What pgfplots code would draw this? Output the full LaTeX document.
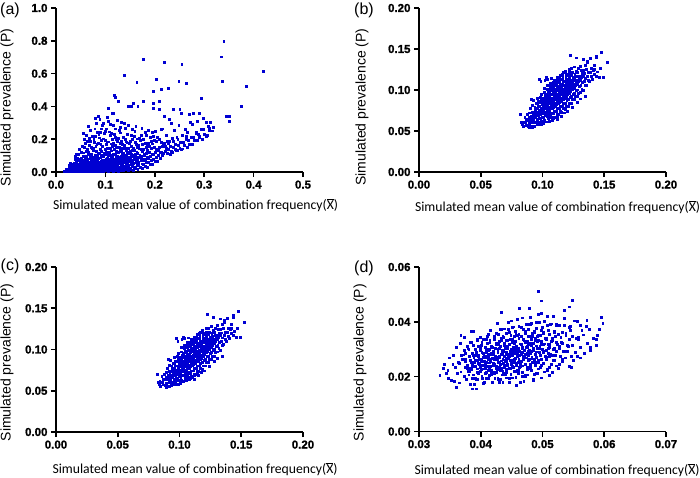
\documentclass[border=0pt]{standalone}
\usepackage{pgfplots}
\pgfplotsset{compat=1.18}
\usepackage{pgfplotstable}
\usepackage{fontspec}
\setmainfont{Liberation Sans}[AutoFakeBold=2.5]
\newfontfamily\calibri{Carlito}
\newfontfamily\tickbf{Liberation Sans}[FakeBold=1.2]
\definecolor{ptblue}{RGB}{0,0,210}

% (a) simulation scenario 1
\pgfplotstableread[row sep=\\]{
x y\\
0.017 0.002\\ 0.021 0.005\\ 0.024 0.008\\ 0.019 0.003\\ 0.023 0.012\\ 0.025 0.006\\ 0.022 0.018\\ 0.020 0.001\\
0.026 0.002\\ 0.031 0.004\\ 0.028 0.007\\ 0.034 0.010\\ 0.029 0.013\\ 0.032 0.016\\ 0.027 0.020\\ 0.035 0.024\\ 0.030 0.028\\ 0.033 0.033\\ 0.028 0.038\\ 0.034 0.045\\ 0.036 0.006\\ 0.032 0.003\\ 0.030 0.052\\
0.036 0.001\\ 0.041 0.003\\ 0.038 0.005\\ 0.044 0.008\\ 0.037 0.010\\ 0.042 0.013\\ 0.045 0.016\\ 0.039 0.019\\ 0.043 0.022\\ 0.036 0.026\\ 0.040 0.030\\ 0.044 0.034\\ 0.038 0.038\\ 0.042 0.043\\ 0.045 0.048\\ 0.037 0.054\\ 0.041 0.060\\ 0.043 0.067\\ 0.039 0.075\\ 0.044 0.085\\ 0.040 0.095\\ 0.042 0.110\\ 0.045 0.006\\ 0.035 0.012\\ 0.039 0.002\\
0.046 0.001\\ 0.051 0.003\\ 0.048 0.005\\ 0.054 0.007\\ 0.047 0.010\\ 0.052 0.012\\ 0.055 0.015\\ 0.049 0.018\\ 0.053 0.021\\ 0.046 0.024\\ 0.050 0.027\\ 0.054 0.031\\ 0.048 0.035\\ 0.052 0.039\\ 0.055 0.043\\ 0.047 0.048\\ 0.051 0.053\\ 0.053 0.058\\ 0.049 0.064\\ 0.054 0.070\\ 0.050 0.077\\ 0.052 0.085\\ 0.055 0.094\\ 0.046 0.105\\ 0.051 0.118\\ 0.048 0.135\\ 0.053 0.155\\ 0.050 0.004\\ 0.045 0.009\\ 0.055 0.020\\
0.056 0.001\\ 0.061 0.003\\ 0.058 0.005\\ 0.064 0.008\\ 0.057 0.011\\ 0.062 0.014\\ 0.065 0.017\\ 0.059 0.020\\ 0.063 0.024\\ 0.056 0.028\\ 0.060 0.032\\ 0.064 0.036\\ 0.058 0.040\\ 0.062 0.045\\ 0.065 0.050\\ 0.057 0.055\\ 0.061 0.060\\ 0.063 0.066\\ 0.059 0.072\\ 0.064 0.078\\ 0.060 0.085\\ 0.062 0.092\\ 0.065 0.104\\ 0.056 0.116\\ 0.061 0.127\\ 0.058 0.151\\ 0.063 0.139\\ 0.060 0.172\\ 0.057 0.196\\ 0.064 0.188\\ 0.062 0.223\\ 0.059 0.006\\ 0.063 0.013\\ 0.061 0.026\\ 0.058 0.042\\
0.066 0.002\\ 0.071 0.004\\ 0.068 0.006\\ 0.074 0.009\\ 0.067 0.012\\ 0.072 0.015\\ 0.075 0.019\\ 0.069 0.023\\ 0.073 0.027\\ 0.066 0.031\\ 0.070 0.035\\ 0.074 0.040\\ 0.068 0.045\\ 0.072 0.050\\ 0.075 0.055\\ 0.067 0.061\\ 0.071 0.067\\ 0.073 0.073\\ 0.069 0.080\\ 0.074 0.087\\ 0.070 0.095\\ 0.072 0.108\\ 0.075 0.131\\ 0.066 0.117\\ 0.071 0.149\\ 0.068 0.162\\ 0.073 0.143\\ 0.070 0.186\\ 0.067 0.203\\ 0.074 0.219\\ 0.069 0.254\\ 0.065 0.277\\ 0.072 0.008\\ 0.068 0.017\\ 0.070 0.038\\
0.076 0.002\\ 0.081 0.005\\ 0.078 0.008\\ 0.084 0.011\\ 0.077 0.014\\ 0.082 0.018\\ 0.085 0.022\\ 0.079 0.026\\ 0.083 0.030\\ 0.076 0.035\\ 0.080 0.040\\ 0.084 0.045\\ 0.078 0.050\\ 0.082 0.056\\ 0.085 0.062\\ 0.077 0.068\\ 0.081 0.075\\ 0.083 0.082\\ 0.079 0.089\\ 0.084 0.097\\ 0.080 0.101\\ 0.082 0.126\\ 0.085 0.113\\ 0.076 0.143\\ 0.081 0.158\\ 0.078 0.182\\ 0.083 0.167\\ 0.080 0.214\\ 0.077 0.196\\ 0.084 0.243\\ 0.079 0.262\\ 0.082 0.298\\ 0.080 0.327\\ 0.083 0.012\\ 0.078 0.033\\
0.086 0.002\\ 0.091 0.005\\ 0.088 0.009\\ 0.094 0.013\\ 0.087 0.017\\ 0.092 0.021\\ 0.095 0.026\\ 0.089 0.031\\ 0.093 0.036\\ 0.086 0.041\\ 0.090 0.047\\ 0.094 0.053\\ 0.088 0.059\\ 0.092 0.066\\ 0.095 0.073\\ 0.087 0.080\\ 0.091 0.088\\ 0.093 0.096\\ 0.089 0.111\\ 0.094 0.102\\ 0.090 0.139\\ 0.092 0.124\\ 0.095 0.157\\ 0.086 0.176\\ 0.091 0.168\\ 0.088 0.207\\ 0.093 0.194\\ 0.090 0.241\\ 0.087 0.226\\ 0.094 0.283\\ 0.092 0.262\\ 0.089 0.020\\
0.096 0.003\\ 0.101 0.007\\ 0.098 0.011\\ 0.104 0.015\\ 0.097 0.020\\ 0.102 0.025\\ 0.105 0.030\\ 0.099 0.036\\ 0.103 0.042\\ 0.096 0.048\\ 0.100 0.055\\ 0.104 0.062\\ 0.098 0.069\\ 0.102 0.077\\ 0.105 0.085\\ 0.097 0.093\\ 0.101 0.107\\ 0.103 0.121\\ 0.099 0.116\\ 0.104 0.146\\ 0.100 0.137\\ 0.102 0.166\\ 0.105 0.183\\ 0.096 0.201\\ 0.101 0.191\\ 0.098 0.234\\ 0.103 0.262\\ 0.100 0.248\\ 0.097 0.295\\ 0.104 0.332\\
0.106 0.003\\ 0.111 0.007\\ 0.108 0.012\\ 0.114 0.017\\ 0.107 0.022\\ 0.112 0.028\\ 0.115 0.034\\ 0.109 0.040\\ 0.113 0.046\\ 0.106 0.053\\ 0.110 0.060\\ 0.114 0.067\\ 0.108 0.075\\ 0.112 0.083\\ 0.115 0.091\\ 0.107 0.099\\ 0.111 0.103\\ 0.113 0.128\\ 0.109 0.119\\ 0.114 0.155\\ 0.110 0.142\\ 0.112 0.171\\ 0.115 0.196\\ 0.106 0.183\\ 0.111 0.221\\ 0.108 0.244\\ 0.113 0.236\\ 0.110 0.289\\ 0.107 0.306\\ 0.114 0.357\\
0.116 0.004\\ 0.121 0.009\\ 0.118 0.014\\ 0.124 0.019\\ 0.117 0.025\\ 0.122 0.031\\ 0.125 0.037\\ 0.119 0.043\\ 0.123 0.050\\ 0.116 0.057\\ 0.120 0.064\\ 0.124 0.071\\ 0.118 0.079\\ 0.122 0.087\\ 0.125 0.095\\ 0.117 0.109\\ 0.121 0.104\\ 0.123 0.126\\ 0.119 0.137\\ 0.124 0.148\\ 0.120 0.161\\ 0.122 0.149\\ 0.125 0.184\\ 0.116 0.172\\ 0.121 0.213\\ 0.118 0.229\\ 0.123 0.198\\ 0.120 0.262\\ 0.117 0.284\\ 0.124 0.316\\
0.126 0.005\\ 0.131 0.011\\ 0.128 0.017\\ 0.134 0.023\\ 0.127 0.029\\ 0.132 0.036\\ 0.135 0.043\\ 0.129 0.050\\ 0.133 0.057\\ 0.126 0.064\\ 0.130 0.072\\ 0.134 0.080\\ 0.128 0.088\\ 0.132 0.096\\ 0.135 0.109\\ 0.127 0.118\\ 0.131 0.131\\ 0.133 0.124\\ 0.129 0.151\\ 0.134 0.142\\ 0.130 0.173\\ 0.132 0.187\\ 0.135 0.168\\ 0.126 0.204\\ 0.131 0.238\\ 0.128 0.251\\ 0.133 0.302\\ 0.130 0.274\\
0.136 0.006\\ 0.141 0.013\\ 0.138 0.020\\ 0.144 0.027\\ 0.137 0.034\\ 0.142 0.041\\ 0.145 0.048\\ 0.139 0.056\\ 0.143 0.064\\ 0.136 0.072\\ 0.140 0.080\\ 0.144 0.088\\ 0.138 0.097\\ 0.142 0.101\\ 0.145 0.121\\ 0.137 0.112\\ 0.141 0.144\\ 0.143 0.133\\ 0.139 0.163\\ 0.144 0.177\\ 0.140 0.196\\ 0.142 0.183\\ 0.145 0.231\\ 0.136 0.211\\ 0.141 0.266\\ 0.138 0.297\\
0.146 0.008\\ 0.151 0.016\\ 0.148 0.024\\ 0.154 0.032\\ 0.147 0.040\\ 0.152 0.048\\ 0.155 0.056\\ 0.149 0.064\\ 0.153 0.072\\ 0.146 0.080\\ 0.150 0.089\\ 0.154 0.098\\ 0.148 0.113\\ 0.152 0.104\\ 0.155 0.132\\ 0.147 0.141\\ 0.151 0.126\\ 0.153 0.158\\ 0.149 0.171\\ 0.154 0.199\\ 0.150 0.186\\ 0.152 0.224\\ 0.155 0.257\\ 0.146 0.283\\
0.156 0.010\\ 0.161 0.020\\ 0.158 0.030\\ 0.164 0.040\\ 0.157 0.050\\ 0.162 0.059\\ 0.165 0.068\\ 0.159 0.077\\ 0.163 0.086\\ 0.156 0.095\\ 0.160 0.109\\ 0.164 0.119\\ 0.158 0.131\\ 0.162 0.103\\ 0.165 0.152\\ 0.157 0.143\\ 0.161 0.181\\ 0.163 0.166\\ 0.159 0.217\\ 0.164 0.201\\ 0.160 0.246\\ 0.162 0.278\\
0.166 0.015\\ 0.171 0.027\\ 0.168 0.038\\ 0.174 0.049\\ 0.167 0.059\\ 0.172 0.068\\ 0.175 0.077\\ 0.169 0.086\\ 0.173 0.095\\ 0.166 0.113\\ 0.170 0.102\\ 0.174 0.129\\ 0.168 0.146\\ 0.172 0.137\\ 0.175 0.168\\ 0.167 0.159\\ 0.171 0.193\\ 0.173 0.221\\ 0.169 0.206\\ 0.174 0.263\\
0.176 0.022\\ 0.181 0.035\\ 0.178 0.047\\ 0.184 0.058\\ 0.177 0.068\\ 0.182 0.078\\ 0.185 0.088\\ 0.179 0.098\\ 0.183 0.113\\ 0.176 0.124\\ 0.180 0.107\\ 0.184 0.149\\ 0.178 0.137\\ 0.182 0.176\\ 0.185 0.161\\ 0.177 0.198\\ 0.181 0.241\\ 0.183 0.222\\
0.186 0.030\\ 0.191 0.045\\ 0.188 0.058\\ 0.194 0.070\\ 0.187 0.081\\ 0.192 0.092\\ 0.195 0.109\\ 0.189 0.121\\ 0.193 0.143\\ 0.186 0.131\\ 0.190 0.158\\ 0.194 0.187\\ 0.188 0.172\\ 0.192 0.211\\ 0.195 0.239\\ 0.187 0.253\\
0.196 0.045\\ 0.201 0.062\\ 0.198 0.076\\ 0.204 0.089\\ 0.197 0.106\\ 0.202 0.118\\ 0.205 0.131\\ 0.199 0.147\\ 0.203 0.139\\ 0.196 0.171\\ 0.200 0.193\\ 0.204 0.184\\ 0.198 0.219\\ 0.202 0.247\\
0.206 0.065\\ 0.211 0.085\\ 0.208 0.103\\ 0.214 0.121\\ 0.207 0.133\\ 0.212 0.117\\ 0.215 0.158\\ 0.209 0.147\\ 0.213 0.179\\ 0.206 0.212\\ 0.210 0.196\\ 0.214 0.257\\
0.216 0.098\\ 0.221 0.127\\ 0.218 0.112\\ 0.224 0.141\\ 0.217 0.163\\ 0.222 0.154\\ 0.225 0.188\\ 0.219 0.176\\ 0.223 0.221\\ 0.216 0.262\\
0.226 0.112\\ 0.231 0.104\\ 0.228 0.139\\ 0.234 0.127\\ 0.227 0.171\\ 0.232 0.158\\ 0.235 0.206\\ 0.229 0.188\\ 0.233 0.297\\
0.236 0.121\\ 0.241 0.137\\ 0.238 0.148\\ 0.244 0.129\\ 0.237 0.184\\ 0.242 0.166\\ 0.245 0.213\\ 0.239 0.252\\
0.246 0.131\\ 0.251 0.146\\ 0.248 0.162\\ 0.254 0.139\\ 0.247 0.197\\ 0.252 0.181\\ 0.255 0.224\\ 0.249 0.281\\
0.256 0.140\\ 0.261 0.160\\ 0.258 0.180\\ 0.264 0.200\\ 0.257 0.220\\ 0.262 0.260\\
0.266 0.150\\ 0.271 0.170\\ 0.268 0.190\\ 0.274 0.210\\ 0.267 0.240\\ 0.272 0.300\\
0.276 0.170\\ 0.281 0.190\\ 0.278 0.210\\ 0.284 0.240\\ 0.277 0.290\\
0.286 0.190\\ 0.291 0.210\\ 0.288 0.230\\ 0.294 0.260\\ 0.287 0.310\\
0.296 0.200\\ 0.301 0.230\\ 0.298 0.260\\ 0.304 0.300\\
0.306 0.220\\ 0.311 0.250\\ 0.308 0.280\\
0.316 0.250\\ 0.318 0.270\\ 0.313 0.300\\
0.340 0.798\\ 0.335 0.701\\ 0.337 0.552\\ 0.420 0.613\\ 0.385 0.521\\ 0.375 0.399\\ 0.345 0.338\\ 0.352 0.338\\ 0.352 0.310\\ 0.294 0.450\\ 0.255 0.654\\ 0.219 0.668\\ 0.177 0.684\\ 0.203 0.562\\ 0.139 0.591\\ 0.164 0.544\\ 0.249 0.552\\ 0.265 0.542\\ 0.227 0.511\\ 0.214 0.501\\ 0.197 0.491\\ 0.119 0.464\\ 0.121 0.456\\ 0.126 0.430\\ 0.177 0.430\\ 0.197 0.420\\ 0.210 0.430\\ 0.156 0.420\\ 0.146 0.399\\ 0.153 0.399\\ 0.166 0.399\\ 0.237 0.379\\ 0.251 0.379\\ 0.254 0.358\\ 0.271 0.348\\ 0.278 0.358\\ 0.291 0.358\\ 0.298 0.328\\ 0.308 0.277\\ 0.311 0.267\\ 0.305 0.216\\ 0.291 0.216\\ 0.264 0.216\\ 0.285 0.236\\ 0.197 0.389\\ 0.210 0.379\\ 0.220 0.338\\ 0.230 0.318\\ 0.106 0.389\\ 0.116 0.358\\ 0.086 0.338\\ 0.089 0.318\\ 0.055 0.236\\
}\tabA

% (b) and (c) share the same simulated sample
\pgfplotstableread[row sep=\\]{
x y\\
0.0835 0.058\\ 0.0842 0.061\\ 0.0848 0.055\\
0.0860 0.060\\ 0.0868 0.064\\ 0.0872 0.057\\ 0.0858 0.067\\
0.0885 0.063\\ 0.0893 0.066\\ 0.0898 0.059\\ 0.0882 0.070\\ 0.0890 0.056\\ 0.0896 0.072\\
0.0908 0.055\\ 0.0921 0.060\\ 0.0912 0.063\\ 0.0918 0.066\\ 0.0910 0.068\\ 0.0923 0.070\\ 0.0915 0.073\\ 0.0906 0.077\\ 0.0919 0.081\\
0.0935 0.056\\ 0.0946 0.060\\ 0.0931 0.063\\ 0.0942 0.066\\ 0.0937 0.069\\ 0.0949 0.071\\ 0.0933 0.073\\ 0.0944 0.076\\ 0.0939 0.079\\ 0.0947 0.083\\ 0.0930 0.087\\
0.0958 0.058\\ 0.0969 0.061\\ 0.0961 0.064\\ 0.0972 0.067\\ 0.0956 0.069\\ 0.0966 0.071\\ 0.0963 0.073\\ 0.0975 0.075\\ 0.0959 0.077\\ 0.0970 0.080\\ 0.0962 0.083\\ 0.0968 0.086\\ 0.0957 0.090\\
0.0983 0.058\\ 0.0994 0.062\\ 0.0987 0.065\\ 0.0998 0.067\\ 0.0981 0.070\\ 0.0992 0.072\\ 0.0985 0.074\\ 0.0996 0.076\\ 0.0989 0.078\\ 0.0980 0.080\\ 0.0997 0.082\\ 0.0986 0.085\\ 0.0993 0.088\\ 0.0984 0.091\\ 0.0991 0.095\\ 0.0988 0.110\\
0.1008 0.059\\ 0.1019 0.063\\ 0.1012 0.066\\ 0.1023 0.069\\ 0.1006 0.071\\ 0.1017 0.073\\ 0.1010 0.075\\ 0.1021 0.077\\ 0.1014 0.079\\ 0.1007 0.081\\ 0.1024 0.083\\ 0.1011 0.085\\ 0.1018 0.087\\ 0.1009 0.090\\ 0.1022 0.093\\ 0.1013 0.097\\ 0.1016 0.102\\ 0.1020 0.112\\
0.1033 0.061\\ 0.1045 0.065\\ 0.1037 0.068\\ 0.1048 0.071\\ 0.1031 0.073\\ 0.1042 0.075\\ 0.1036 0.077\\ 0.1047 0.079\\ 0.1039 0.081\\ 0.1034 0.082\\ 0.1044 0.084\\ 0.1038 0.086\\ 0.1049 0.088\\ 0.1032 0.090\\ 0.1043 0.092\\ 0.1035 0.095\\ 0.1046 0.098\\ 0.1040 0.101\\ 0.1041 0.105\\ 0.1037 0.113\\
0.1058 0.062\\ 0.1070 0.066\\ 0.1062 0.069\\ 0.1073 0.072\\ 0.1056 0.075\\ 0.1067 0.077\\ 0.1061 0.079\\ 0.1072 0.081\\ 0.1064 0.083\\ 0.1059 0.085\\ 0.1069 0.086\\ 0.1063 0.088\\ 0.1074 0.090\\ 0.1057 0.092\\ 0.1068 0.094\\ 0.1060 0.096\\ 0.1071 0.099\\ 0.1065 0.102\\ 0.1066 0.105\\ 0.1062 0.108\\ 0.1070 0.114\\
0.1083 0.063\\ 0.1095 0.067\\ 0.1087 0.071\\ 0.1098 0.074\\ 0.1081 0.077\\ 0.1092 0.079\\ 0.1086 0.081\\ 0.1097 0.083\\ 0.1089 0.085\\ 0.1084 0.087\\ 0.1094 0.088\\ 0.1088 0.090\\ 0.1099 0.092\\ 0.1082 0.094\\ 0.1093 0.096\\ 0.1085 0.098\\ 0.1096 0.100\\ 0.1090 0.103\\ 0.1091 0.106\\ 0.1087 0.109\\ 0.1095 0.112\\ 0.1093 0.065\\
0.1108 0.066\\ 0.1120 0.070\\ 0.1112 0.074\\ 0.1123 0.077\\ 0.1106 0.080\\ 0.1117 0.082\\ 0.1111 0.084\\ 0.1122 0.086\\ 0.1114 0.088\\ 0.1109 0.090\\ 0.1119 0.091\\ 0.1113 0.093\\ 0.1124 0.095\\ 0.1107 0.097\\ 0.1118 0.099\\ 0.1110 0.101\\ 0.1121 0.103\\ 0.1115 0.106\\ 0.1116 0.109\\ 0.1112 0.112\\ 0.1120 0.115\\ 0.1118 0.068\\
0.1133 0.070\\ 0.1145 0.074\\ 0.1137 0.077\\ 0.1148 0.080\\ 0.1131 0.083\\ 0.1142 0.085\\ 0.1136 0.087\\ 0.1147 0.089\\ 0.1139 0.091\\ 0.1134 0.093\\ 0.1144 0.094\\ 0.1138 0.096\\ 0.1149 0.098\\ 0.1132 0.100\\ 0.1143 0.102\\ 0.1135 0.104\\ 0.1146 0.106\\ 0.1140 0.109\\ 0.1141 0.112\\ 0.1137 0.115\\ 0.1145 0.118\\ 0.1143 0.072\\
0.1158 0.073\\ 0.1170 0.077\\ 0.1162 0.080\\ 0.1173 0.083\\ 0.1156 0.086\\ 0.1167 0.088\\ 0.1161 0.090\\ 0.1172 0.092\\ 0.1164 0.094\\ 0.1159 0.096\\ 0.1169 0.097\\ 0.1163 0.099\\ 0.1174 0.101\\ 0.1157 0.103\\ 0.1168 0.105\\ 0.1160 0.107\\ 0.1171 0.110\\ 0.1165 0.113\\ 0.1166 0.116\\ 0.1162 0.119\\ 0.1170 0.121\\
0.1183 0.076\\ 0.1195 0.080\\ 0.1187 0.084\\ 0.1198 0.087\\ 0.1181 0.089\\ 0.1192 0.091\\ 0.1186 0.093\\ 0.1197 0.095\\ 0.1189 0.097\\ 0.1184 0.099\\ 0.1194 0.100\\ 0.1188 0.102\\ 0.1199 0.104\\ 0.1182 0.106\\ 0.1193 0.108\\ 0.1185 0.110\\ 0.1196 0.113\\ 0.1190 0.116\\ 0.1191 0.119\\ 0.1187 0.123\\
0.1208 0.080\\ 0.1220 0.084\\ 0.1212 0.088\\ 0.1223 0.091\\ 0.1206 0.094\\ 0.1217 0.096\\ 0.1211 0.098\\ 0.1222 0.100\\ 0.1214 0.102\\ 0.1209 0.104\\ 0.1219 0.106\\ 0.1213 0.108\\ 0.1224 0.110\\ 0.1207 0.112\\ 0.1218 0.115\\ 0.1210 0.118\\ 0.1221 0.121\\ 0.1215 0.125\\
0.1233 0.084\\ 0.1245 0.088\\ 0.1237 0.092\\ 0.1248 0.095\\ 0.1231 0.098\\ 0.1242 0.100\\ 0.1236 0.102\\ 0.1247 0.104\\ 0.1239 0.106\\ 0.1234 0.108\\ 0.1244 0.110\\ 0.1238 0.112\\ 0.1249 0.115\\ 0.1232 0.118\\ 0.1243 0.121\\ 0.1235 0.126\\
0.1258 0.088\\ 0.1270 0.092\\ 0.1262 0.096\\ 0.1273 0.099\\ 0.1256 0.102\\ 0.1267 0.105\\ 0.1261 0.107\\ 0.1272 0.109\\ 0.1264 0.111\\ 0.1259 0.113\\ 0.1269 0.116\\ 0.1263 0.119\\ 0.1274 0.123\\ 0.1257 0.128\\
0.1283 0.092\\ 0.1295 0.096\\ 0.1287 0.100\\ 0.1298 0.104\\ 0.1281 0.107\\ 0.1292 0.110\\ 0.1286 0.112\\ 0.1297 0.114\\ 0.1289 0.117\\ 0.1284 0.121\\ 0.1294 0.126\\ 0.1276 0.139\\
0.1308 0.097\\ 0.1320 0.101\\ 0.1312 0.105\\ 0.1323 0.109\\ 0.1306 0.112\\ 0.1317 0.115\\ 0.1311 0.117\\ 0.1322 0.120\\ 0.1314 0.124\\ 0.1309 0.129\\
0.1333 0.099\\ 0.1345 0.105\\ 0.1337 0.110\\ 0.1348 0.114\\ 0.1331 0.117\\ 0.1342 0.120\\ 0.1336 0.124\\ 0.1347 0.130\\
0.1358 0.106\\ 0.1370 0.112\\ 0.1362 0.117\\ 0.1373 0.121\\ 0.1356 0.125\\ 0.1367 0.133\\
0.1383 0.110\\ 0.1395 0.116\\ 0.1387 0.121\\ 0.1398 0.126\\ 0.1391 0.138\\
0.1408 0.113\\ 0.1420 0.119\\ 0.1412 0.124\\ 0.1423 0.130\\
0.1435 0.117\\ 0.1445 0.122\\ 0.1440 0.139\\
0.1460 0.115\\ 0.1470 0.126\\
0.1478 0.146\\ 0.1497 0.115\\ 0.1524 0.133\\
0.1438 0.141\\ 0.1419 0.125\\ 0.1362 0.135\\ 0.1227 0.142\\ 0.1349 0.092\\ 0.0830 0.060\\ 0.0824 0.070\\ 0.0897 0.054\\ 0.0919 0.0545\\ 0.0992 0.058\\ 0.1005 0.060\\ 0.0911 0.088\\ 0.0978 0.113\\ 0.1032 0.115\\ 0.1180 0.072\\ 0.1205 0.074\\ 0.1240 0.079\\ 0.1280 0.085\\ 0.1310 0.089\\ 0.1125 0.064\\ 0.1155 0.068\\ 0.1130 0.113\\ 0.1330 0.137\\
}\tabB

% (d)
\pgfplotstableread[row sep=\\]{
x y\\
0.0345 0.0212\\ 0.0340 0.0231\\ 0.0348 0.0192\\
0.0352 0.0187\\ 0.0347 0.0224\\ 0.0355 0.0245\\ 0.0350 0.0268\\
0.0357 0.0182\\ 0.0363 0.0212\\ 0.0359 0.0232\\ 0.0364 0.0252\\ 0.0356 0.0277\\ 0.0361 0.0307\\
0.0366 0.0177\\ 0.0373 0.0202\\ 0.0368 0.0217\\ 0.0375 0.0232\\ 0.0365 0.0247\\ 0.0371 0.0262\\ 0.0369 0.0277\\ 0.0374 0.0297\\ 0.0367 0.0322\\
0.0384 0.0171\\ 0.0377 0.0191\\ 0.0381 0.0206\\ 0.0380 0.0219\\ 0.0383 0.0231\\ 0.0378 0.0241\\ 0.0385 0.0251\\ 0.0375 0.0261\\ 0.0382 0.0273\\ 0.0376 0.0286\\ 0.0380 0.0301\\ 0.0384 0.0326\\
0.0390 0.0171\\ 0.0393 0.0191\\ 0.0388 0.0206\\ 0.0395 0.0216\\ 0.0385 0.0226\\ 0.0392 0.0236\\ 0.0386 0.0244\\ 0.0390 0.0252\\ 0.0394 0.0260\\ 0.0389 0.0268\\ 0.0393 0.0276\\ 0.0387 0.0286\\ 0.0391 0.0298\\ 0.0388 0.0314\\ 0.0395 0.0336\\
0.0405 0.0175\\ 0.0395 0.0190\\ 0.0402 0.0202\\ 0.0396 0.0212\\ 0.0400 0.0220\\ 0.0404 0.0228\\ 0.0399 0.0235\\ 0.0403 0.0242\\ 0.0397 0.0249\\ 0.0401 0.0256\\ 0.0398 0.0263\\ 0.0405 0.0270\\ 0.0396 0.0278\\ 0.0402 0.0287\\ 0.0400 0.0297\\ 0.0396 0.0309\\ 0.0402 0.0323\\ 0.0399 0.0342\\
0.0406 0.0178\\ 0.0410 0.0193\\ 0.0414 0.0205\\ 0.0409 0.0215\\ 0.0413 0.0223\\ 0.0407 0.0230\\ 0.0411 0.0237\\ 0.0408 0.0244\\ 0.0415 0.0250\\ 0.0406 0.0256\\ 0.0412 0.0262\\ 0.0410 0.0268\\ 0.0406 0.0274\\ 0.0412 0.0281\\ 0.0409 0.0289\\ 0.0414 0.0298\\ 0.0407 0.0308\\ 0.0411 0.0320\\ 0.0410 0.0335\\ 0.0413 0.0355\\
0.0419 0.0179\\ 0.0423 0.0194\\ 0.0417 0.0206\\ 0.0421 0.0215\\ 0.0418 0.0223\\ 0.0425 0.0230\\ 0.0416 0.0237\\ 0.0422 0.0243\\ 0.0420 0.0249\\ 0.0416 0.0255\\ 0.0422 0.0261\\ 0.0419 0.0267\\ 0.0424 0.0273\\ 0.0417 0.0279\\ 0.0421 0.0286\\ 0.0420 0.0293\\ 0.0423 0.0301\\ 0.0418 0.0310\\ 0.0425 0.0320\\ 0.0415 0.0332\\ 0.0422 0.0347\\ 0.0416 0.0367\\
0.0431 0.0179\\ 0.0428 0.0194\\ 0.0435 0.0206\\ 0.0426 0.0216\\ 0.0432 0.0224\\ 0.0430 0.0232\\ 0.0426 0.0239\\ 0.0432 0.0245\\ 0.0429 0.0251\\ 0.0434 0.0257\\ 0.0427 0.0263\\ 0.0431 0.0269\\ 0.0430 0.0275\\ 0.0433 0.0281\\ 0.0428 0.0287\\ 0.0435 0.0294\\ 0.0425 0.0301\\ 0.0432 0.0309\\ 0.0426 0.0318\\ 0.0430 0.0328\\ 0.0434 0.0340\\ 0.0429 0.0354\\ 0.0433 0.0371\\ 0.0427 0.0394\\
0.0436 0.0178\\ 0.0442 0.0195\\ 0.0440 0.0208\\ 0.0436 0.0218\\ 0.0442 0.0227\\ 0.0439 0.0235\\ 0.0444 0.0242\\ 0.0437 0.0248\\ 0.0441 0.0254\\ 0.0440 0.0260\\ 0.0443 0.0266\\ 0.0438 0.0272\\ 0.0445 0.0278\\ 0.0435 0.0284\\ 0.0442 0.0290\\ 0.0436 0.0297\\ 0.0440 0.0304\\ 0.0444 0.0312\\ 0.0439 0.0321\\ 0.0443 0.0331\\ 0.0437 0.0343\\ 0.0441 0.0357\\ 0.0438 0.0374\\ 0.0445 0.0396\\
0.0446 0.0178\\ 0.0452 0.0195\\ 0.0449 0.0209\\ 0.0454 0.0220\\ 0.0447 0.0229\\ 0.0451 0.0237\\ 0.0450 0.0245\\ 0.0453 0.0252\\ 0.0448 0.0258\\ 0.0455 0.0264\\ 0.0445 0.0270\\ 0.0452 0.0276\\ 0.0446 0.0282\\ 0.0450 0.0288\\ 0.0454 0.0294\\ 0.0449 0.0301\\ 0.0453 0.0308\\ 0.0447 0.0316\\ 0.0451 0.0325\\ 0.0448 0.0335\\ 0.0455 0.0347\\ 0.0446 0.0361\\ 0.0452 0.0378\\ 0.0450 0.0403\\
0.0464 0.0179\\ 0.0457 0.0197\\ 0.0461 0.0211\\ 0.0460 0.0222\\ 0.0463 0.0232\\ 0.0458 0.0240\\ 0.0465 0.0248\\ 0.0455 0.0255\\ 0.0462 0.0261\\ 0.0456 0.0267\\ 0.0460 0.0273\\ 0.0464 0.0279\\ 0.0459 0.0285\\ 0.0463 0.0291\\ 0.0457 0.0297\\ 0.0461 0.0304\\ 0.0458 0.0311\\ 0.0465 0.0319\\ 0.0456 0.0328\\ 0.0462 0.0338\\ 0.0460 0.0350\\ 0.0456 0.0364\\ 0.0462 0.0382\\ 0.0459 0.0410\\
0.0470 0.0182\\ 0.0473 0.0200\\ 0.0468 0.0215\\ 0.0475 0.0227\\ 0.0465 0.0237\\ 0.0472 0.0246\\ 0.0466 0.0254\\ 0.0470 0.0261\\ 0.0474 0.0268\\ 0.0469 0.0275\\ 0.0473 0.0282\\ 0.0467 0.0289\\ 0.0471 0.0296\\ 0.0468 0.0303\\ 0.0475 0.0310\\ 0.0466 0.0318\\ 0.0472 0.0326\\ 0.0470 0.0335\\ 0.0466 0.0345\\ 0.0472 0.0357\\ 0.0469 0.0371\\ 0.0474 0.0389\\ 0.0467 0.0414\\
0.0485 0.0186\\ 0.0475 0.0206\\ 0.0482 0.0221\\ 0.0476 0.0233\\ 0.0480 0.0244\\ 0.0484 0.0253\\ 0.0479 0.0261\\ 0.0483 0.0269\\ 0.0477 0.0277\\ 0.0481 0.0284\\ 0.0478 0.0291\\ 0.0485 0.0298\\ 0.0476 0.0305\\ 0.0482 0.0312\\ 0.0480 0.0320\\ 0.0476 0.0328\\ 0.0482 0.0337\\ 0.0479 0.0347\\ 0.0484 0.0359\\ 0.0477 0.0373\\ 0.0481 0.0391\\ 0.0480 0.0416\\
0.0486 0.0191\\ 0.0490 0.0211\\ 0.0494 0.0228\\ 0.0489 0.0241\\ 0.0493 0.0252\\ 0.0487 0.0262\\ 0.0491 0.0271\\ 0.0488 0.0280\\ 0.0495 0.0288\\ 0.0486 0.0296\\ 0.0492 0.0304\\ 0.0490 0.0312\\ 0.0486 0.0320\\ 0.0492 0.0329\\ 0.0489 0.0338\\ 0.0494 0.0349\\ 0.0487 0.0361\\ 0.0491 0.0376\\ 0.0490 0.0396\\ 0.0493 0.0426\\
0.0499 0.0195\\ 0.0503 0.0217\\ 0.0497 0.0235\\ 0.0501 0.0249\\ 0.0498 0.0261\\ 0.0505 0.0272\\ 0.0496 0.0282\\ 0.0502 0.0291\\ 0.0500 0.0300\\ 0.0496 0.0309\\ 0.0502 0.0318\\ 0.0499 0.0328\\ 0.0504 0.0338\\ 0.0497 0.0350\\ 0.0501 0.0363\\ 0.0500 0.0379\\ 0.0503 0.0400\\ 0.0498 0.0430\\
0.0511 0.0205\\ 0.0508 0.0228\\ 0.0515 0.0246\\ 0.0506 0.0261\\ 0.0512 0.0274\\ 0.0510 0.0286\\ 0.0506 0.0297\\ 0.0512 0.0307\\ 0.0509 0.0317\\ 0.0514 0.0328\\ 0.0507 0.0340\\ 0.0511 0.0354\\ 0.0510 0.0370\\ 0.0513 0.0390\\ 0.0508 0.0420\\
0.0516 0.0214\\ 0.0522 0.0239\\ 0.0520 0.0259\\ 0.0516 0.0276\\ 0.0522 0.0291\\ 0.0519 0.0304\\ 0.0524 0.0317\\ 0.0517 0.0331\\ 0.0521 0.0347\\ 0.0520 0.0364\\ 0.0523 0.0389\\ 0.0518 0.0419\\
0.0526 0.0229\\ 0.0532 0.0254\\ 0.0529 0.0274\\ 0.0534 0.0293\\ 0.0527 0.0309\\ 0.0531 0.0325\\ 0.0530 0.0342\\ 0.0533 0.0361\\ 0.0528 0.0385\\ 0.0535 0.0414\\
0.0544 0.0238\\ 0.0537 0.0268\\ 0.0541 0.0291\\ 0.0540 0.0313\\ 0.0543 0.0335\\ 0.0538 0.0358\\ 0.0545 0.0383\\ 0.0535 0.0413\\
0.0550 0.0258\\ 0.0553 0.0288\\ 0.0548 0.0313\\ 0.0555 0.0338\\ 0.0546 0.0368\\ 0.0552 0.0403\\
0.0556 0.0272\\ 0.0562 0.0307\\ 0.0559 0.0337\\ 0.0564 0.0367\\ 0.0557 0.0402\\
0.0568 0.0285\\ 0.0573 0.0322\\ 0.0566 0.0352\\ 0.0571 0.0383\\
0.0578 0.0305\\ 0.0583 0.0338\\ 0.0576 0.0372\\
0.0588 0.0335\\ 0.0593 0.0372\\ 0.0598 0.0395\\
0.0596 0.0417\\ 0.0589 0.0350\\ 0.0588 0.0313\\ 0.0577 0.0295\\ 0.0572 0.0405\\ 0.0561 0.0387\\ 0.0559 0.0344\\ 0.0549 0.0478\\ 0.0544 0.0454\\ 0.0535 0.0441\\ 0.0493 0.0511\\ 0.0498 0.0476\\ 0.0479 0.0448\\ 0.0463 0.0448\\ 0.0334 0.0204\\ 0.0342 0.0246\\ 0.0361 0.0161\\ 0.0386 0.0155\\ 0.0393 0.0155\\ 0.0368 0.0350\\ 0.0374 0.0344\\ 0.0385 0.0365\\ 0.0389 0.0365\\ 0.0434 0.0435\\ 0.0458 0.0167\\ 0.0485 0.0191\\ 0.0561 0.0268\\ 0.0547 0.0234\\
0.0373 0.0199\\ 0.0378 0.0229\\ 0.0376 0.0254\\ 0.0372 0.0279\\ 0.0379 0.0309\\
0.0387 0.0193\\ 0.0382 0.0218\\ 0.0386 0.0238\\ 0.0383 0.0258\\ 0.0388 0.0278\\ 0.0381 0.0298\\ 0.0385 0.0323\\
0.0392 0.0193\\ 0.0397 0.0213\\ 0.0394 0.0228\\ 0.0398 0.0243\\ 0.0391 0.0258\\ 0.0396 0.0273\\ 0.0393 0.0288\\ 0.0399 0.0308\\ 0.0395 0.0333\\
0.0403 0.0192\\ 0.0408 0.0212\\ 0.0401 0.0227\\ 0.0406 0.0239\\ 0.0409 0.0251\\ 0.0402 0.0262\\ 0.0407 0.0273\\ 0.0404 0.0285\\ 0.0409 0.0298\\ 0.0401 0.0314\\ 0.0405 0.0337\\
0.0412 0.0192\\ 0.0418 0.0212\\ 0.0414 0.0227\\ 0.0419 0.0239\\ 0.0411 0.0250\\ 0.0416 0.0261\\ 0.0413 0.0272\\ 0.0417 0.0283\\ 0.0412 0.0295\\ 0.0419 0.0308\\ 0.0415 0.0324\\ 0.0411 0.0347\\
0.0428 0.0191\\ 0.0422 0.0211\\ 0.0427 0.0227\\ 0.0421 0.0240\\ 0.0429 0.0251\\ 0.0423 0.0261\\ 0.0426 0.0271\\ 0.0421 0.0281\\ 0.0428 0.0292\\ 0.0424 0.0304\\ 0.0429 0.0318\\ 0.0422 0.0335\\ 0.0426 0.0358\\
0.0432 0.0191\\ 0.0437 0.0213\\ 0.0433 0.0229\\ 0.0438 0.0242\\ 0.0431 0.0253\\ 0.0436 0.0263\\ 0.0439 0.0272\\ 0.0434 0.0281\\ 0.0437 0.0291\\ 0.0431 0.0302\\ 0.0438 0.0315\\ 0.0433 0.0330\\ 0.0436 0.0348\\ 0.0432 0.0371\\
0.0447 0.0192\\ 0.0441 0.0214\\ 0.0448 0.0230\\ 0.0443 0.0243\\ 0.0449 0.0254\\ 0.0442 0.0264\\ 0.0446 0.0273\\ 0.0441 0.0282\\ 0.0448 0.0292\\ 0.0444 0.0303\\ 0.0447 0.0316\\ 0.0442 0.0331\\ 0.0449 0.0349\\ 0.0445 0.0373\\
0.0452 0.0195\\ 0.0458 0.0217\\ 0.0453 0.0234\\ 0.0457 0.0247\\ 0.0451 0.0258\\ 0.0456 0.0268\\ 0.0459 0.0277\\ 0.0454 0.0286\\ 0.0452 0.0296\\ 0.0458 0.0307\\ 0.0455 0.0320\\ 0.0451 0.0335\\ 0.0457 0.0354\\ 0.0453 0.0381\\
0.0468 0.0199\\ 0.0462 0.0222\\ 0.0467 0.0239\\ 0.0461 0.0253\\ 0.0469 0.0265\\ 0.0463 0.0276\\ 0.0466 0.0286\\ 0.0461 0.0296\\ 0.0468 0.0307\\ 0.0464 0.0319\\ 0.0469 0.0334\\ 0.0462 0.0353\\ 0.0466 0.0379\\
0.0472 0.0204\\ 0.0477 0.0228\\ 0.0473 0.0246\\ 0.0478 0.0260\\ 0.0471 0.0272\\ 0.0476 0.0283\\ 0.0479 0.0294\\ 0.0474 0.0305\\ 0.0477 0.0317\\ 0.0471 0.0330\\ 0.0478 0.0346\\ 0.0473 0.0365\\ 0.0476 0.0390\\
0.0487 0.0208\\ 0.0481 0.0233\\ 0.0488 0.0252\\ 0.0483 0.0267\\ 0.0489 0.0280\\ 0.0482 0.0292\\ 0.0486 0.0304\\ 0.0481 0.0316\\ 0.0488 0.0330\\ 0.0484 0.0346\\ 0.0487 0.0366\\ 0.0482 0.0393\\
0.0492 0.0213\\ 0.0498 0.0240\\ 0.0493 0.0260\\ 0.0497 0.0276\\ 0.0491 0.0290\\ 0.0496 0.0303\\ 0.0499 0.0316\\ 0.0494 0.0331\\ 0.0492 0.0348\\ 0.0498 0.0369\\ 0.0495 0.0396\\
0.0508 0.0222\\ 0.0502 0.0249\\ 0.0507 0.0270\\ 0.0501 0.0287\\ 0.0509 0.0303\\ 0.0503 0.0319\\ 0.0506 0.0337\\ 0.0501 0.0359\\ 0.0508 0.0387\\
0.0512 0.0232\\ 0.0517 0.0259\\ 0.0513 0.0280\\ 0.0518 0.0299\\ 0.0511 0.0318\\ 0.0516 0.0338\\ 0.0519 0.0362\\ 0.0514 0.0392\\
0.0527 0.0246\\ 0.0521 0.0276\\ 0.0528 0.0301\\ 0.0523 0.0326\\ 0.0526 0.0353\\ 0.0522 0.0386\\
0.0532 0.0261\\ 0.0537 0.0291\\ 0.0533 0.0321\\ 0.0538 0.0351\\ 0.0536 0.0386\\
0.0547 0.0275\\ 0.0542 0.0310\\ 0.0548 0.0345\\ 0.0543 0.0380\\
}\tabD

\pgfplotsset{
  panel/.style={
    scale only axis, width=247bp, height=164bp, anchor=south west,
    axis x line=bottom, axis y line=left,
    axis line style={-, line width=1.6bp, black},
    major tick style={line width=1.6bp, black},
    major tick length=5bp, tick align=outside,
    enlargelimits=false, clip=false, scaled ticks=false,
    /pgf/number format/assume math mode=true,
    tick label style={font=\fontsize{11.5bp}{13bp}\selectfont, black},
    ylabel={Simulated prevalence (P)},
    ylabel style={font=\fontsize{14bp}{16bp}\selectfont, anchor=center},
    xlabel={{\calibri Simulated mean value of combination frequency($\overline{\mbox{X}}$)}},
    xlabel style={font=\fontsize{13.7bp}{15bp}\selectfont, anchor=center},
  },
  % heavy tick numbers in the text font with a fixed number of decimals
  fmt/.style={
    xticklabel={\tickbf\bfseries\pgfmathprintnumber[fixed,fixed zerofill,precision=#1,assume math mode=true]{\tick}},
    yticklabel={\tickbf\bfseries\pgfmathprintnumber[fixed,fixed zerofill,precision=#1,assume math mode=true]{\tick}},
  },
  pts/.style={only marks, mark=square*, mark size=0.95bp, color=ptblue, mark options={line width=0pt}},
}

\begin{document}
\begin{tikzpicture}
\path[use as bounding box] (0,0) rectangle (700bp,478bp);

% (a)
\begin{axis}[panel, at={(56bp,306bp)}, fmt=1,
  xmin=0, xmax=0.5, ymin=0, ymax=1,
  xtick={0,0.1,...,0.5}, ytick={0,0.2,...,1.0},
  ylabel style={at={(axis description cs:-0.198,0.393)}},
  xlabel style={at={(axis description cs:0.565,0)}, yshift=-33bp}]
\addplot[pts] table[x=x,y=y]{\tabA};
\end{axis}

% (b)
\begin{axis}[panel, at={(419bp,306bp)}, fmt=2,
  xmin=0, xmax=0.2, ymin=0, ymax=0.2,
  xtick={0,0.05,...,0.2}, ytick={0,0.05,...,0.2},
  ylabel style={at={(axis description cs:-0.231,0.396)}},
  xlabel style={at={(axis description cs:0.561,0)}, yshift=-35bp}]
\addplot[pts] table[x=x,y=y]{\tabB};
\end{axis}

% (c)
\begin{axis}[panel, at={(56bp,46bp)}, height=165bp, fmt=2,
  xmin=0, xmax=0.2, ymin=0, ymax=0.2,
  xtick={0,0.05,...,0.2}, ytick={0,0.05,...,0.2},
  ylabel style={at={(axis description cs:-0.198,0.421)}},
  xlabel style={at={(axis description cs:0.563,0)}, yshift=-37bp}]
\addplot[pts] table[x=x,y=y]{\tabB};
\end{axis}

% (d)
\begin{axis}[panel, at={(419bp,46.5bp)}, height=164.5bp, fmt=2,
  xmin=0.03, xmax=0.07, ymin=0, ymax=0.06,
  xtick={0.03,0.04,...,0.07}, ytick={0,0.02,0.04,0.06},
  ylabel style={at={(axis description cs:-0.239,0.419)}},
  xlabel style={at={(axis description cs:0.559,0)}, yshift=-38.5bp}]
\addplot[pts] table[x=x,y=y]{\tabD};
\end{axis}

\begin{scope}[every node/.style={font=\fontsize{16bp}{18bp}\selectfont}]
\node at (10bp,468bp) {(a)};
\node at (364bp,468bp) {(b)};
\node at (10bp,212bp) {(c)};
\node at (364bp,210bp) {(d)};
\end{scope}
\end{tikzpicture}
\end{document}
